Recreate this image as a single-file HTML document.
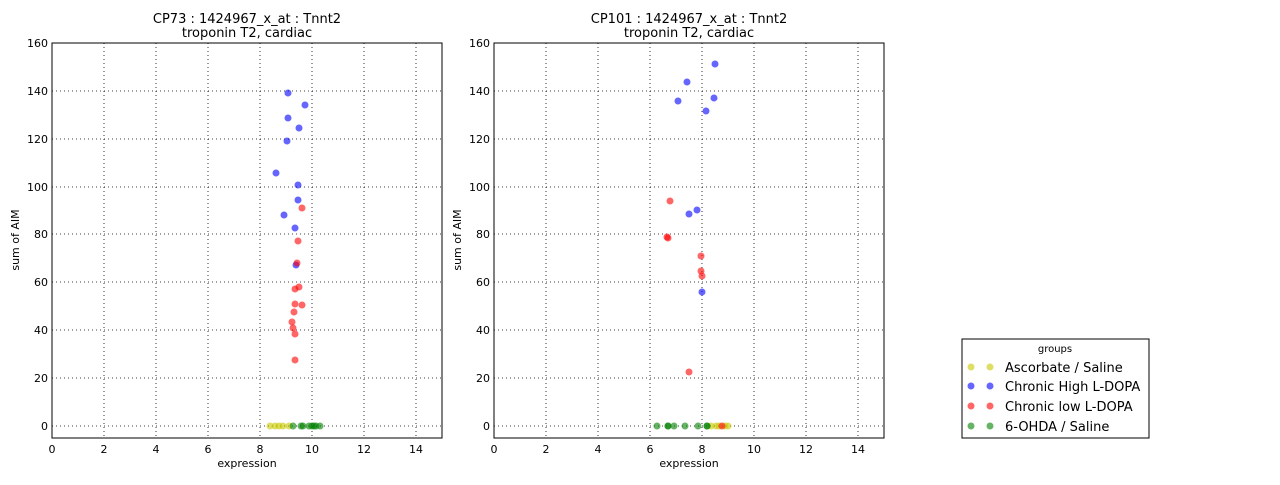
<!DOCTYPE html><html><head><style>body{margin:0;background:#fff}svg{font-family:"DejaVu Sans","Liberation Sans",sans-serif}</style></head><body>
<svg width="1280" height="480" xmlns="http://www.w3.org/2000/svg">
<defs>
<g id="ax">
<rect x="0" y="0" width="390" height="395" fill="#fff" stroke="#000" stroke-width="1"/>
<g stroke="#000" stroke-dasharray="1,3" stroke-width="0.8">
<line x1="52" y1="0" x2="52" y2="395"/><line x1="104" y1="0" x2="104" y2="395"/><line x1="156" y1="0" x2="156" y2="395"/><line x1="208" y1="0" x2="208" y2="395"/><line x1="260" y1="0" x2="260" y2="395"/><line x1="312" y1="0" x2="312" y2="395"/><line x1="364" y1="0" x2="364" y2="395"/>
<line x1="0" y1="383" x2="390" y2="383"/><line x1="0" y1="335" x2="390" y2="335"/><line x1="0" y1="287" x2="390" y2="287"/><line x1="0" y1="239" x2="390" y2="239"/><line x1="0" y1="191" x2="390" y2="191"/><line x1="0" y1="144" x2="390" y2="144"/><line x1="0" y1="96" x2="390" y2="96"/><line x1="0" y1="48" x2="390" y2="48"/>
</g>
<g font-size="11" text-anchor="middle" fill="#000">
<text x="0" y="410">0</text><text x="52" y="410">2</text><text x="104" y="410">4</text><text x="156" y="410">6</text><text x="208" y="410">8</text><text x="260" y="410">10</text><text x="312" y="410">12</text><text x="364" y="410">14</text>
<text x="195" y="424">expression</text>
</g>
<g font-size="11" text-anchor="end">
<text x="-4" y="387">0</text><text x="-4" y="339">20</text><text x="-4" y="291">40</text><text x="-4" y="243">60</text><text x="-4" y="195">80</text><text x="-4" y="148">100</text><text x="-4" y="100">120</text><text x="-4" y="52">140</text><text x="-4" y="4">160</text>
</g>
<text transform="translate(-33,197) rotate(-90)" font-size="11" text-anchor="middle">sum of AIM</text>
</g>
</defs>
<use href="#ax" x="52" y="43"/>
<use href="#ax" x="494" y="43"/>
<g font-size="13" text-anchor="middle">
<text x="247" y="23">CP73 : 1424967_x_at : Tnnt2</text><text x="247" y="37">troponin T2, cardiac</text>
<text x="689" y="23">CP101 : 1424967_x_at : Tnnt2</text><text x="689" y="37">troponin T2, cardiac</text>
</g>
<g fill-opacity="0.6">
<g fill="#c8c800"><circle cx="270" cy="426" r="3.5"/><circle cx="275" cy="426" r="3.5"/><circle cx="279" cy="426" r="3.5"/><circle cx="283" cy="426" r="3.5"/><circle cx="289" cy="426" r="3.5"/>
<circle cx="711" cy="426" r="3.5"/><circle cx="716" cy="426" r="3.5"/><circle cx="719" cy="426" r="3.5"/><circle cx="725" cy="426" r="3.5"/><circle cx="728" cy="426" r="3.5"/></g>
<g fill="#008000"><circle cx="293" cy="426" r="3.5"/><circle cx="301" cy="426" r="3.5"/><circle cx="303" cy="426" r="3.5"/><circle cx="309" cy="426" r="3.5"/><circle cx="312" cy="426" r="3.5"/><circle cx="314" cy="426" r="3.5"/><circle cx="316" cy="426" r="3.5"/><circle cx="320" cy="426" r="3.5"/>
<circle cx="657" cy="426" r="3.5"/><circle cx="668" cy="426" r="3.5"/><circle cx="668" cy="426" r="3.5"/><circle cx="674" cy="426" r="3.5"/><circle cx="685" cy="426" r="3.5"/><circle cx="698" cy="426" r="3.5"/><circle cx="707" cy="426" r="3.5"/><circle cx="707" cy="426" r="3.5"/></g>
<g fill="#0000ff"><circle cx="288" cy="93" r="3.5"/><circle cx="305" cy="105" r="3.5"/><circle cx="288" cy="118" r="3.5"/><circle cx="299" cy="128" r="3.5"/><circle cx="287" cy="141" r="3.5"/><circle cx="276" cy="173" r="3.5"/><circle cx="298" cy="185" r="3.5"/><circle cx="298" cy="200" r="3.5"/><circle cx="284" cy="215" r="3.5"/><circle cx="295" cy="228" r="3.5"/><circle cx="296" cy="265" r="3.5"/>
<circle cx="715" cy="64" r="3.5"/><circle cx="687" cy="82" r="3.5"/><circle cx="678" cy="101" r="3.5"/><circle cx="714" cy="98" r="3.5"/><circle cx="706" cy="111" r="3.5"/><circle cx="689" cy="214" r="3.5"/><circle cx="697" cy="210" r="3.5"/><circle cx="702" cy="292" r="3.5"/></g>
<g fill="#ff0000"><circle cx="302" cy="208" r="3.5"/><circle cx="298" cy="241" r="3.5"/><circle cx="297" cy="263" r="3.5"/><circle cx="295" cy="289" r="3.5"/><circle cx="299" cy="287" r="3.5"/><circle cx="295" cy="304" r="3.5"/><circle cx="302" cy="305" r="3.5"/><circle cx="294" cy="312" r="3.5"/><circle cx="292" cy="322" r="3.5"/><circle cx="293" cy="328" r="3.5"/><circle cx="295" cy="334" r="3.5"/><circle cx="295" cy="360" r="3.5"/>
<circle cx="670" cy="201" r="3.5"/><circle cx="667" cy="237" r="3.5"/><circle cx="668" cy="238" r="3.5"/><circle cx="701" cy="256" r="3.5"/><circle cx="701" cy="271" r="3.5"/><circle cx="702" cy="276" r="3.5"/><circle cx="689" cy="372" r="3.5"/><circle cx="722" cy="426" r="3.5"/></g>
</g>
<rect x="962" y="339" width="187" height="99" fill="#fff" stroke="#000"/>
<text x="1055" y="352" font-size="10" text-anchor="middle">groups</text>
<g fill-opacity="0.6">
<circle cx="971" cy="367" r="3.5" fill="#c8c800"/><circle cx="990" cy="367" r="3.5" fill="#c8c800"/>
<circle cx="971" cy="386" r="3.5" fill="#0000ff"/><circle cx="990" cy="386" r="3.5" fill="#0000ff"/>
<circle cx="971" cy="406" r="3.5" fill="#ff0000"/><circle cx="990" cy="406" r="3.5" fill="#ff0000"/>
<circle cx="971" cy="426" r="3.5" fill="#008000"/><circle cx="990" cy="426" r="3.5" fill="#008000"/>
</g>
<g font-size="13"><text x="1005" y="372">Ascorbate / Saline</text><text x="1005" y="391">Chronic High L-DOPA</text><text x="1005" y="411">Chronic low L-DOPA</text><text x="1005" y="431">6-OHDA / Saline</text></g>
</svg></body></html>
